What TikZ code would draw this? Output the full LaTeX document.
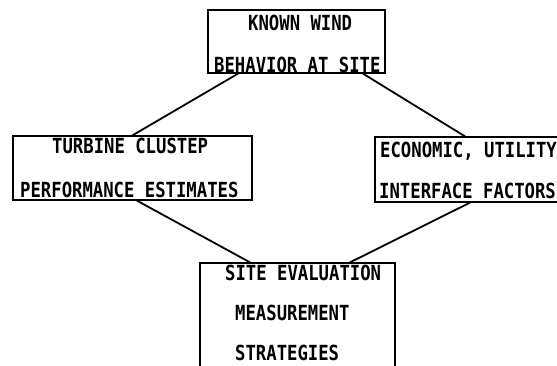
\documentclass[tikz,border=0pt]{standalone}
\usepackage{fontspec}
\newfontfamily\typer[FakeStretch=0.83]{DejaVu Sans Mono}
\usetikzlibrary{positioning}
\begin{document}
\begin{tikzpicture}[
x=1pt, y=-1pt,
box/.style={draw, line width=1.3pt, inner sep=0pt},
txt/.style={font=\typer\bfseries\fontsize{20.8pt}{24pt}\selectfont, inner sep=0pt, anchor=base west},
link/.style={line width=1.8pt, line cap=round}
]
\useasboundingbox (0,0) rectangle (557,365);
\clip (0,0) rectangle (557,365);

\node[box, minimum width=177pt, minimum height=63pt] (wind) at (296.5,41.5) {};
\node[box, minimum width=239pt, minimum height=64pt] (cluster) at (132.5,168) {};
\node[box, minimum width=225pt, minimum height=65pt] (econ) at (487.5,169.5) {};
\node[box, minimum width=195pt, minimum height=127pt] (strat) at (297.5,326.5) {};

\node[txt] (wind1) at (248,30) {KNOWN WIND};
\node[txt] (wind2) at (214,72) {BEHAVIOR AT SITE};
\node[txt] (cluster1) at (52,153) {TURBINE CLUSTEP};
\node[txt] (cluster2) at (20,197) {PERFORMANCE ESTIMATES};
\node[txt] (econ1) at (380,157) {ECONOMIC, UTILITY};
\node[txt] (econ2) at (379,198) {INTERFACE FACTORS};
\node[txt] (strat1) at (225,280) {SITE EVALUATION};
\node[txt] (strat2) at (235,320) {MEASUREMENT};
\node[txt] (strat3) at (235,360) {STRATEGIES};

\draw[link] ([xshift=-58.5pt]wind.south) -- (cluster.north);
\draw[link] ([xshift=66.5pt]wind.south) -- ([xshift=-22.5pt]econ.north);
\draw[link] ([xshift=4.5pt]cluster.south) -- ([xshift=-47.5pt]strat.north);
\draw[link] ([xshift=-17.5pt]econ.south) -- ([xshift=52.5pt]strat.north);
\end{tikzpicture}
\end{document}
